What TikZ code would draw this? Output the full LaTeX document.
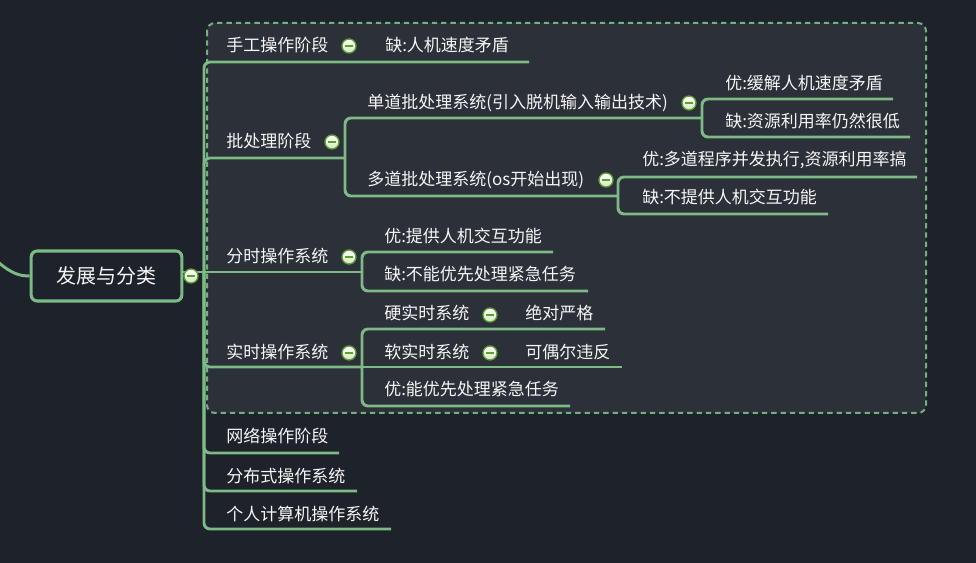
\documentclass[tikz,border=0pt]{standalone}
\usepackage{fontspec}
\setmainfont{Noto Sans CJK SC}
\definecolor{bg}{HTML}{1E222A}
\definecolor{area}{HTML}{2C3039}
\definecolor{lk}{HTML}{7DBA86}
\definecolor{dsh}{HTML}{72B07E}
\definecolor{fg}{HTML}{F6F6F6}
\definecolor{togring}{HTML}{5E9E34}
\definecolor{togfill}{HTML}{D2EABC}
\begin{document}
\begin{tikzpicture}[x=0.75pt,y=-0.75pt,
  txt/.style={anchor=west, inner sep=0pt, text=fg,
    font=\fontsize{12.75pt}{14pt}\selectfont, text height=0.88em, text depth=0.12em},
  link/.style={draw=lk, line width=2.2pt, rounded corners=4.5pt},
  tog/.style={circle, inner sep=0pt, minimum size=10.5pt, draw=togring, line width=1pt,
    top color=white, bottom color=togfill,
    path picture={\draw[togring, line width=1.3pt]
      ([xshift=-2.8pt]path picture bounding box.center) --
      ([xshift=2.8pt]path picture bounding box.center);}},
  rootbox/.style={draw=lk, line width=2.3pt, rounded corners=4.5pt, fill=bg, text=fg,
    minimum width=113pt, minimum height=37.5pt, inner sep=0pt,
    font=\fontsize{15pt}{17pt}\selectfont}
]
\fill[bg] (0,0) rectangle (976,563);
\useasboundingbox (0,0) rectangle (976,563);

% boundary area
\draw[dsh, fill=area, line width=1.5pt, rounded corners=6pt, dash pattern=on 4pt off 3pt]
  (207,23) rectangle (926,413);

% root
\node[rootbox] (root) at (106.5,276) {发展与分类};
\coordinate (lin) at (-2,262);
\draw[lk, line width=2.2pt] (lin) .. controls (12,274) and (20,276) .. (root.west);

% junctions
\coordinate (J) at (204,272);
\coordinate (K1) at (345,158);
\coordinate (K2) at (702,118);
\coordinate (K3) at (618,196);
\coordinate (K4) at (362,272);
\coordinate (K5) at (362,367);

% underline end points
\coordinate (e1) at (529,62);
\coordinate (e21) at (893,99);
\coordinate (e22) at (910,137);
\coordinate (e23) at (917,177);
\coordinate (e24) at (828,214);
\coordinate (e31) at (553,252);
\coordinate (e32) at (588,291);
\coordinate (e41) at (605,329);
\coordinate (e43) at (570,406);
\coordinate (e44) at (622,367);
\coordinate (e5) at (339,453);
\coordinate (e6) at (357,491);
\coordinate (e7) at (391,529);

% connectors
\draw[link] (root.east |- J) -- (J);
\draw[link] (J) |- (e1);
\draw[link] (J) |- (K1);
\draw[link] (K1) |- (K2);
\draw[link] (K2) |- (e21);
\draw[link] (K2) |- (e22);
\draw[link] (K1) |- (K3);
\draw[link] (K3) |- (e23);
\draw[link] (K3) |- (e24);
\draw[link] (J) -- (K4);
\draw[link] (K4) |- (e31);
\draw[link] (K4) |- (e32);
\draw[link] (J) |- (K5);
\draw[link] (K5) |- (e41);
\draw[link] (K5) -- (e44);
\draw[link] (K5) |- (e43);
\draw[link] (J) |- (e5);
\draw[link] (J) |- (e6);
\draw[link] (J) |- (e7);

% texts
\node[txt] (t1) at (226,46.5) {手工操作阶段};
\node[txt] (t11) at (385,46.5) {缺:人机速度矛盾};
\node[txt] (t2) at (226,142.5) {批处理阶段};
\node[txt] (t21) at (367,103.5) {单道批处理系统(引入脱机输入输出技术)};
\node[txt] (t211) at (725,84.5) {优:缓解人机速度矛盾};
\node[txt] (t212) at (725,122.5) {缺:资源利用率仍然很低};
\node[txt] (t22) at (367,180.5) {多道批处理系统(os开始出现)};
\node[txt] (t221) at (642,160.5) {优:多道程序并发执行,资源利用率搞};
\node[txt] (t222) at (642,198.5) {缺:不提供人机交互功能};
\node[txt] (t3) at (226,257.5) {分时操作系统};
\node[txt] (t31) at (384,237.5) {优:提供人机交互功能};
\node[txt] (t32) at (384,275.5) {缺:不能优先处理紧急任务};
\node[txt] (t4) at (226,353.5) {实时操作系统};
\node[txt] (t41) at (384,314.5) {硬实时系统};
\node[txt] (t411) at (525,314.5) {绝对严格};
\node[txt] (t42) at (384,353.5) {软实时系统};
\node[txt] (t421) at (525,353.5) {可偶尔违反};
\node[txt] (t43) at (384,390.5) {优:能优先处理紧急任务};
\node[txt] (t5) at (226,437.5) {网络操作阶段};
\node[txt] (t6) at (226,477.5) {分布式操作系统};
\node[txt] (t7) at (226,515.5) {个人计算机操作系统};

% collapse toggles
\node[tog] (c0) at (191,276) {};
\node[tog] (c1) at (349,46) {};
\node[tog] (c2) at (332,142) {};
\node[tog] (c21) at (689,103) {};
\node[tog] (c22) at (606,180) {};
\node[tog] (c3) at (349,257) {};
\node[tog] (c4) at (349,353) {};
\node[tog] (c41) at (490,315) {};
\node[tog] (c42) at (490,353) {};
\end{tikzpicture}
\end{document}
